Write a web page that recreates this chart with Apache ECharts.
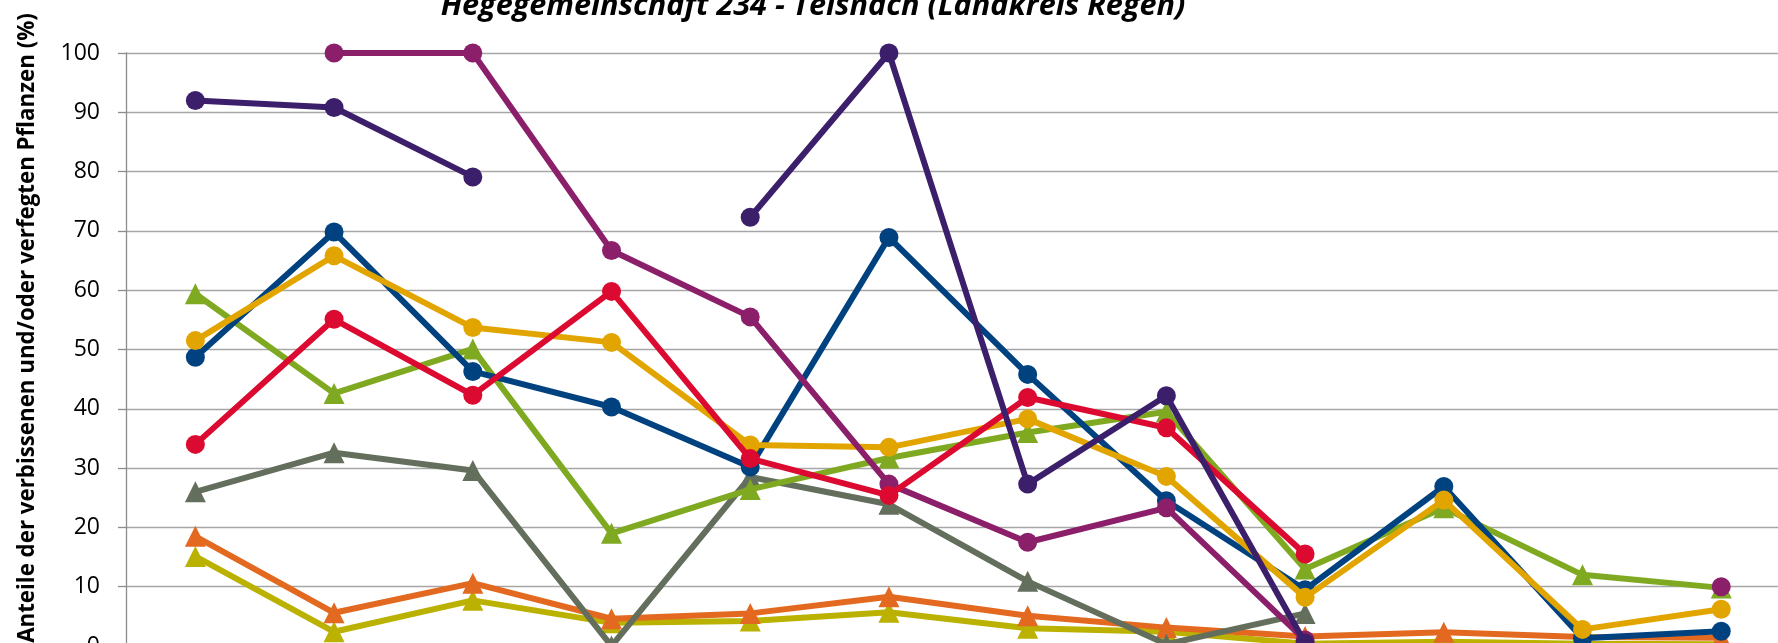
<!DOCTYPE html>
<html>
<head>
<meta charset="utf-8">
<script src="https://cdn.jsdelivr.net/npm/echarts@6/dist/echarts.min.js"></script>
<style>
html,body{margin:0;padding:0;background:#fff;overflow:hidden;}
#chart{width:1778px;height:643px;}
</style>
</head>
<body>
<div id="chart"></div>
<script>
const titleText = 'Hegegemeinschaft 234 - Teisnach (Landkreis Regen)';
const yAxisTitle = 'Anteile der verbissenen und/oder verfegten Pflanzen (%)';
const categories = ['1','2','3','4','5','6','7','8','9','10','11','12'];
const yTicks = [0,10,20,30,40,50,60,70,80,90,100];

const sDarkPurple = [92, 90.8, 79.1, null, 72.3, 100, 27.3, 42.2, 0.5, null, null, null];
const sMagenta    = [null, 100, 100, 66.7, 55.5, 27.3, 17.5, 23.3, 1, null, null, 10];
const sBlue       = [48.7, 69.8, 46.3, 40.3, 30.2, 68.9, 45.8, 24.5, 9.5, 26.9, 1.3, 2.5];
const sYellow     = [51.5, 65.8, 53.7, 51.2, 33.9, 33.5, 38.3, 28.6, 8.2, 24.6, 2.8, 6.2];
const sRed        = [34, 55.1, 42.3, 59.8, 31.6, 25.4, 41.9, 36.8, 15.5, null, null, null];
const sGreen      = [59.4, 42.6, 50.1, 19, 26.4, 31.7, 36, 39.5, 13, 23.3, 12, 9.8];
const sGray       = [26, 32.6, 29.6, 0, 28.5, 23.9, 10.9, 0.3, 5.5, null, null, null];
const sOrange     = [18.5, 5.6, 10.6, 4.6, 5.5, 8.3, 5.1, 3.1, 1.6, 2.3, 1.5, 1.4];
const sOlive      = [15.1, 2.4, 7.7, 3.9, 4.2, 5.7, 3.0, 2.4, 0.4, 0.7, 0.4, 0.3];

function line(name, data, color, symbol, z) {
  return {
    name: name, type: 'line', data: data, z: z,
    connectNulls: false, showSymbol: true, showAllSymbol: true,
    symbol: symbol, symbolSize: symbol === 'circle' ? 19 : 21,
    lineStyle: { color: color, width: 6 },
    itemStyle: { color: color, borderWidth: 0 },
    emphasis: { disabled: true },
    animation: false
  };
}

const chart = echarts.init(document.getElementById('chart'), null, { renderer: 'canvas' });
chart.setOption({
  animation: false,
  backgroundColor: '#ffffff',
  grid: { left: 126, top: 53, width: 1664.6, height: 593, containLabel: false, outerBoundsMode: 'none' },
  xAxis: {
    type: 'category', data: categories, boundaryGap: true,
    axisLine: { show: false }, axisTick: { show: false }, axisLabel: { show: false },
    splitLine: { show: false }
  },
  yAxis: {
    type: 'value', min: yTicks[0], max: yTicks[yTicks.length - 1], interval: 10,
    axisLine: { show: true, lineStyle: { color: '#8c8c8c', width: 1.3 } },
    axisTick: { show: true, inside: false, length: 8, lineStyle: { color: '#8c8c8c', width: 1.3 } },
    axisLabel: { margin: 26, color: '#000', fontSize: 23, fontFamily: 'Open Sans' },
    splitLine: { show: true, lineStyle: { color: '#a6a6a6', width: 1.3 } }
  },
  graphic: [
    { type: 'text', x: 813, y: 22, z: 100,
      style: { text: titleText, fill: '#000', font: 'italic bold 30.6px "Open Sans"',
               textAlign: 'center', textVerticalAlign: 'bottom' } },
    { type: 'text', x: 28, y: 328, rotation: Math.PI / 2, z: 100,
      style: { text: yAxisTitle, fill: '#000', font: 'bold 22.3px "Open Sans"',
               textAlign: 'center', textVerticalAlign: 'middle' } }
  ],
  series: [
    line('Olive', sOlive, '#bab100', 'triangle', 2),
    line('Orange', sOrange, '#e2691f', 'triangle', 3),
    line('Gray', sGray, '#636f5c', 'triangle', 4),
    line('Green', sGreen, '#80a922', 'triangle', 5),
    line('Blue', sBlue, '#00427f', 'circle', 6),
    line('Yellow', sYellow, '#e2a500', 'circle', 7),
    line('Magenta', sMagenta, '#8b1f6a', 'circle', 8),
    line('Red', sRed, '#dc0a30', 'circle', 9),
    line('DarkPurple', sDarkPurple, '#3c1f6b', 'circle', 10)
  ]
});
</script>
</body>
</html>
